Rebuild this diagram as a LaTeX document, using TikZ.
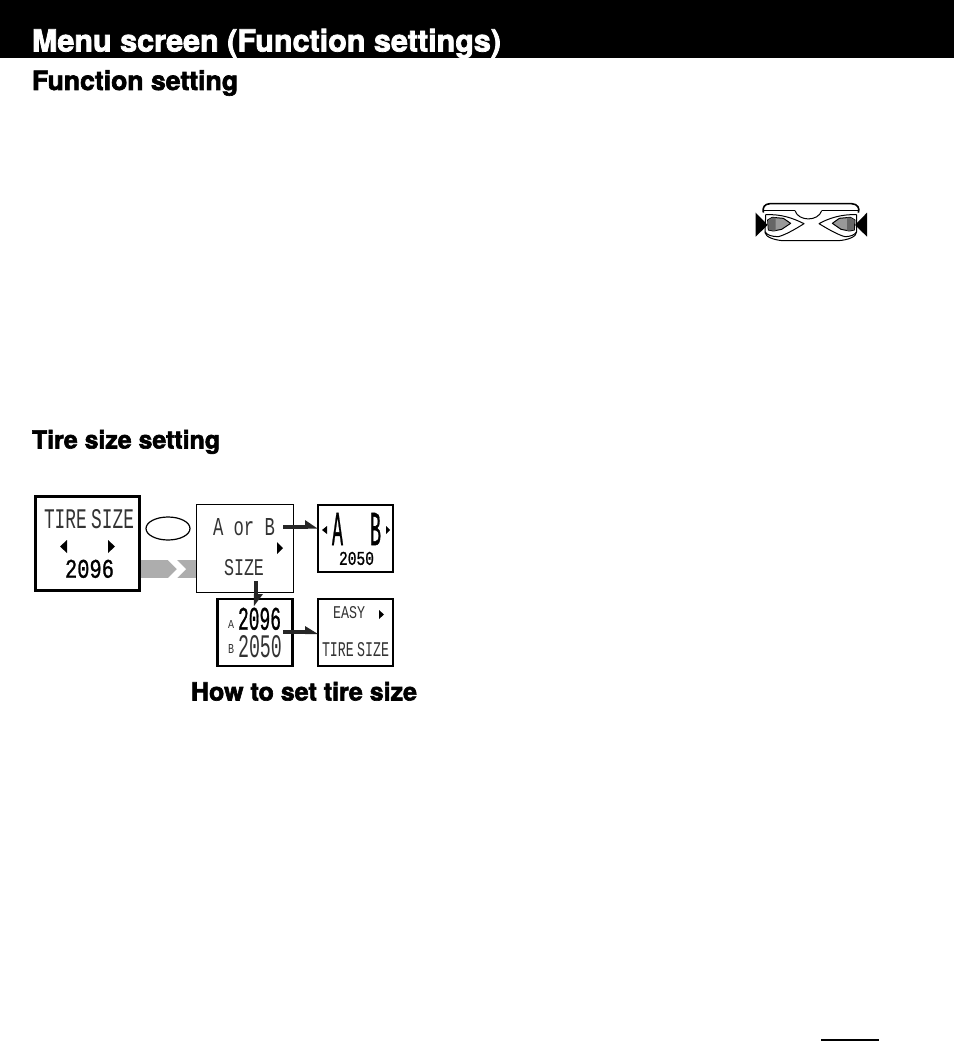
\documentclass[tikz,border=0pt]{standalone}
\usepackage{fontspec}
\usepackage{graphicx}
\usetikzlibrary{shapes.geometric}
\setmainfont{Liberation Sans}
\newfontfamily\hdfont[FakeBold=2.4]{TeX Gyre Heros Bold}
\newfontfamily\lcdfont{Liberation Mono}
\newfontfamily\lcdbold[FakeBold=1.1]{Liberation Mono}
\newdimen\px \px=0.75pt
% name, x-left, y-bottom, width, height, text
\newcommand{\lcd}[6]{\node[lcdtext,text=black!80] (#1) at (#2,#3) {\resizebox{#4\px}{#5\px}{\lcdfont #6}};}
\newcommand{\lcdb}[6]{\node[lcdtext] (#1) at (#2,#3) {\resizebox{#4\px}{#5\px}{\lcdbold #6}};}
\newcommand{\tiresize}{TIRE\kern-0.35em\ SIZE}
\tikzset{
  lcdtext/.style={anchor=south west,inner sep=0pt,outer sep=0pt},
  headtext/.style={anchor=base west,inner sep=0pt,outer sep=0pt},
  thinbox/.style={draw=black,line width=1\px,fill=white},
  midbox/.style={draw=black,line width=2.2\px,fill=white},
  thickbox/.style={draw=black,line width=3.4\px,fill=white},
  flowarrow/.style={draw=black!85,line width=4\px},
  flowhead/.style={fill=black!85},
}
\begin{document}
\begin{tikzpicture}[x=0.75pt,y=-0.75pt]
\useasboundingbox (0,0) rectangle (954,1059);
\fill[white] (0,0) rectangle (954,1059);
\fill[black] (0,0) rectangle (954,58);

\node[headtext,text=white] (title) at (32,51.5) {\resizebox{469\px}{!}{\hdfont Menu screen (Function settings)}};
\node[headtext] (fs) at (32,90) {\resizebox{206\px}{!}{\hdfont Function setting}};
\node[headtext] (ts) at (32,448.5) {\resizebox{188\px}{!}{\hdfont Tire size setting}};
\node[headtext] (how) at (191,700.5) {\resizebox{226\px}{!}{\hdfont How to set tire size}};

% controller
\begin{scope}[shift={(745,190)},x=0.25pt,y=-0.25pt,line width=1\px,line join=round]
  \draw[line width=1.6\px] (55,68) .. controls (52,52) and (58,42) .. (75,41) -- (320,41) .. controls (338,42) and (345,55) .. (340,68);
  \draw (55,62) -- (150,62) (230,62) -- (340,62);
  \draw (150,62) .. controls (160,95) and (220,95) .. (230,62);
  \draw (62,74) -- (60,128) .. controls (62,142) and (90,150) .. (112,152) -- (280,152) .. controls (310,150) and (335,140) .. (335,125) -- (335,74);
  \draw (62,74) .. controls (110,72) and (145,85) .. (177,101) .. controls (150,118) and (120,135) .. (100,140) .. controls (80,140) and (65,135) .. (60,125);
  \draw (335,74) .. controls (290,72) and (250,85) .. (222,101) .. controls (250,118) and (280,135) .. (300,140) .. controls (315,140) and (330,135) .. (335,125);
  \filldraw[fill=black!40] (68,90) -- (82,82) -- (115,85) -- (137,100) -- (110,118) -- (85,123) -- (70,120) -- cycle;
  \filldraw[fill=black!40] (330,90) -- (316,82) -- (283,85) -- (262,100) -- (288,118) -- (313,123) -- (328,120) -- cycle;
  \fill[black!60] (70,90) -- (82,83) -- (92,83) -- (92,122) -- (85,122) -- (71,119) -- cycle;
  \fill[black!60] (328,90) -- (316,83) -- (306,83) -- (306,122) -- (313,122) -- (327,119) -- cycle;
  \fill[black] (32,68) -- (68,105) -- (32,140) -- cycle;
  \fill[black] (366,68) -- (330,105) -- (366,140) -- cycle;
\end{scope}

% grey band and chevron
\fill[black!32] (141,560) rectangle (197,578);
\fill[white] (168,560) -- (177,560) -- (186,569) -- (177,578) -- (168,578) -- (177,569) -- cycle;

% boxes
\node[thickbox,minimum width=104\px,minimum height=94\px,inner sep=0pt] (b1) at (87.5,543.5) {};
\node[thinbox,minimum width=97\px,minimum height=88\px,inner sep=0pt] (b2) at (244.5,548) {};
\node[midbox,minimum width=75\px,minimum height=67\px,inner sep=0pt] (b3) at (355.5,538.5) {};
\node[midbox,minimum width=75\px,minimum height=67\px,inner sep=0pt] (b4) at (255,632.5) {};
\node[midbox,minimum width=75\px,minimum height=67\px,inner sep=0pt] (b5) at (355.5,632.5) {};
\node[draw=black,line width=1.2\px,ellipse,minimum width=44\px,minimum height=23\px,inner sep=0pt] (key) at (168,528.5) {};

% LCD text
\lcd{t1a}{44}{529}{90}{19}{\tiresize}
\lcdb{t1b}{65}{578}{49}{18}{2096}
\lcd{t2a}{213}{536}{62}{17}{A or B}
\lcd{t2b}{224}{576}{40}{16}{SIZE}
\lcdb{t3a}{332}{545}{11}{32}{A}
\lcdb{t3b}{370}{545}{11}{32}{B}
\lcdb{t3c}{339}{565}{35}{13}{2050}
\lcd{t4a}{228}{628}{6}{8}{A}
\lcdb{t4b}{238}{630}{43}{22}{2096}
\lcd{t4c}{228}{653}{6}{9}{B}
\lcd{t4d}{238}{658}{44}{22}{2050}
\lcd{t5a}{333}{619}{32}{12}{EASY}
\lcd{t5b}{322}{657}{67}{14}{\tiresize}

% small triangles
\fill (67,540) -- (67,553) -- (60,546.5) -- cycle;
\fill (108,540) -- (108,553) -- (115,546.5) -- cycle;
\fill (277,542) -- (277,554) -- (283,548) -- cycle;
\fill (327,526) -- (327,534) -- (322,530) -- cycle;
\fill (386,526) -- (386,534) -- (390,530) -- cycle;
\fill (379,610) -- (379,619) -- (384,614.5) -- cycle;

% connectors: shaft between named points, half arrowhead on the end
\coordinate (a1) at (283,526.5);
\coordinate (a2) at (255.8,581);
\coordinate (a3) at (283,632);
\coordinate (e1) at ([xshift=-9\px]a1-|b3.west);
\coordinate (e2) at ([yshift=-1\px]a2|-b4.north);
\coordinate (e3) at ([xshift=-9\px]a3-|b5.west);
\draw[flowarrow] (a1) -- (e1);
\draw[flowarrow] (a2) -- (e2);
\draw[flowarrow] (a3) -- (e3);
\fill[flowhead] (305,520) -- (317.5,528.5) -- (305,528.5) -- cycle;
\fill[flowhead] (253.8,594) -- (263,594) -- (254,606) -- cycle;
\fill[flowhead] (305,626) -- (318,634) -- (305,634) -- cycle;

% page mark
\coordinate (p1) at (821,1040);
\coordinate (p2) at (879,1040);
\draw[line width=1.5\px] (p1) -- (p2);
\end{tikzpicture}
\end{document}
